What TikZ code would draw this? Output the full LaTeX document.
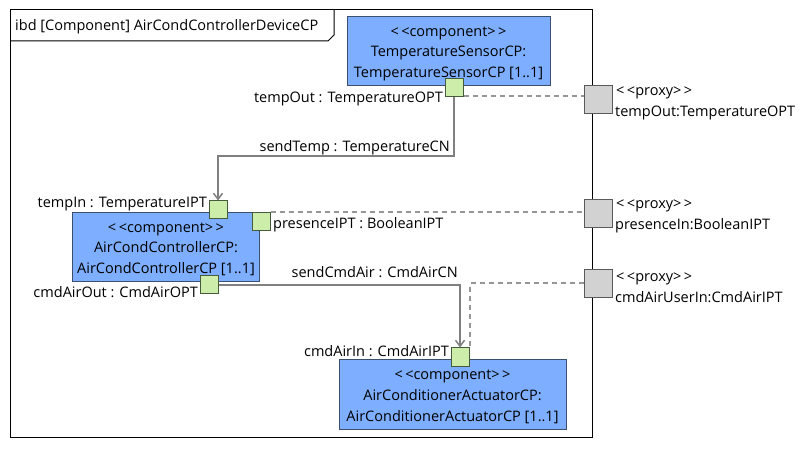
\documentclass[tikz,border=0pt]{standalone}
\usepackage{fontspec}
\setmainfont{Open Sans}
\usetikzlibrary{arrows.meta}
\definecolor{compfill}{RGB}{126,174,255}
\definecolor{compdraw}{RGB}{60,80,110}
\definecolor{portfill}{RGB}{204,238,170}
\definecolor{portdraw}{RGB}{70,90,60}
\definecolor{proxfill}{RGB}{210,210,210}
\definecolor{proxdraw}{RGB}{90,90,90}
\definecolor{conncol}{RGB}{128,128,128}
\definecolor{dashcol}{RGB}{150,150,150}
\newcommand{\stereo}[1]{<\kern2.5bp<#1>\kern2.5bp>}
\begin{document}
\begin{tikzpicture}[x=1bp,y=-1bp,
  every node/.style={font=\fontsize{14.5bp}{21bp}\selectfont, inner sep=0pt},
  comp/.style={draw=compdraw, fill=compfill, line width=1bp, align=center, anchor=center},
  port/.style={draw=portdraw, fill=portfill, line width=1bp, minimum width=18bp, minimum height=18bp},
  proxport/.style={draw=proxdraw, fill=proxfill, line width=1bp, minimum width=28bp, minimum height=28bp},
  lbl/.style={anchor=base},
  conn/.style={draw=conncol, line width=2bp, -{Straight Barb[length=6bp,width=9bp,line width=1.5bp]}},
  deleg/.style={draw=dashcol, line width=2bp, dash pattern=on 5bp off 4bp}
]
\useasboundingbox (0,0) rectangle (806,450);
\fill[white] (0,0) rectangle (806,450);
% frame
\draw[line width=1bp] (10,10) rectangle (592,437);
\draw[line width=1bp] (10,41) -- (328,41) -- (334,35) -- (334,10);
\node[lbl, anchor=base west] (title) at (15,31) {ibd [Component] AirCondControllerDeviceCP};

% components
\node[comp, minimum width=203bp, minimum height=69bp] (ts) at (448.5,51.5) {};
\node[lbl] (tsl1) at (448.5,37) {\stereo{component}};
\node[lbl] (tsl2) at (448.5,57) {TemperatureSensorCP:};
\node[lbl] (tsl3) at (448.5,78) {TemperatureSensorCP [1..1]};

\node[comp, minimum width=186bp, minimum height=69bp] (ac) at (166,247.5) {};
\node[lbl] (acl1) at (166,233) {\stereo{component}};
\node[lbl] (acl2) at (166,253) {AirCondControllerCP:};
\node[lbl] (acl3) at (166,274) {AirCondControllerCP [1..1]};

\node[comp, minimum width=227bp, minimum height=69bp] (aa) at (452.5,394.5) {};
\node[lbl] (aal1) at (452.5,380) {\stereo{component}};
\node[lbl] (aal2) at (452.5,400) {AirConditionerActuatorCP:};
\node[lbl] (aal3) at (452.5,421) {AirConditionerActuatorCP [1..1]};

% ports
\node[port] (tOut) at (454,88) {};
\node[port] (tIn) at (218,210) {};
\node[port] (pres) at (261,222) {};
\node[port] (cOut) at (209,285) {};
\node[port] (cIn) at (460,357) {};

% proxy ports
\node[proxport] (pxT) at (598,100) {};
\node[proxport] (pxP) at (598,213.5) {};
\node[proxport] (pxC) at (598,283.5) {};

% port labels
\node[lbl, anchor=base east] (tOutL) at (443,103) {tempOut : TemperatureOPT};
\node[lbl, anchor=base east] (tInL) at (207,208) {tempIn : TemperatureIPT};
\node[lbl, anchor=base west] (presL) at (273,229) {presenceIPT : BooleanIPT};
\node[lbl, anchor=base east] (cOutL) at (198,298) {cmdAirOut : CmdAirOPT};
\node[lbl, anchor=base east] (cInL) at (449,357) {cmdAirIn : CmdAirIPT};

\node[lbl, anchor=base west] (pxTs) at (616,96) {\stereo{proxy}};
\node[lbl, anchor=base west] (pxTl) at (615,117) {tempOut:TemperatureOPT};
\node[lbl, anchor=base west] (pxPs) at (616,209) {\stereo{proxy}};
\node[lbl, anchor=base west] (pxPl) at (615,230) {presenceIn:BooleanIPT};
\node[lbl, anchor=base west] (pxCs) at (616,282) {\stereo{proxy}};
\node[lbl, anchor=base west] (pxCl) at (615,303) {cmdAirUserIn:CmdAirIPT};

% delegation (dashed)
\draw[deleg] (tOut.east |- 0,96) -- (pxT.west |- 0,96);
\draw[deleg] (pres.north east) -- (pxP.west |- pres.north east);
\draw[deleg] (pxC.west) -| (cIn.north east);

% connectors
\draw[conn] (tOut.south) -- (tOut.south |- 0,156) -- (tIn.north |- 0,156) -- (tIn.north);
\node[lbl, anchor=base east] (sendT) at (450,152) {sendTemp : TemperatureCN};
\draw[conn] (cOut.east) -| (cIn.north);
\node[lbl, anchor=base east] (sendC) at (458,278) {sendCmdAir : CmdAirCN};
\end{tikzpicture}
\end{document}
